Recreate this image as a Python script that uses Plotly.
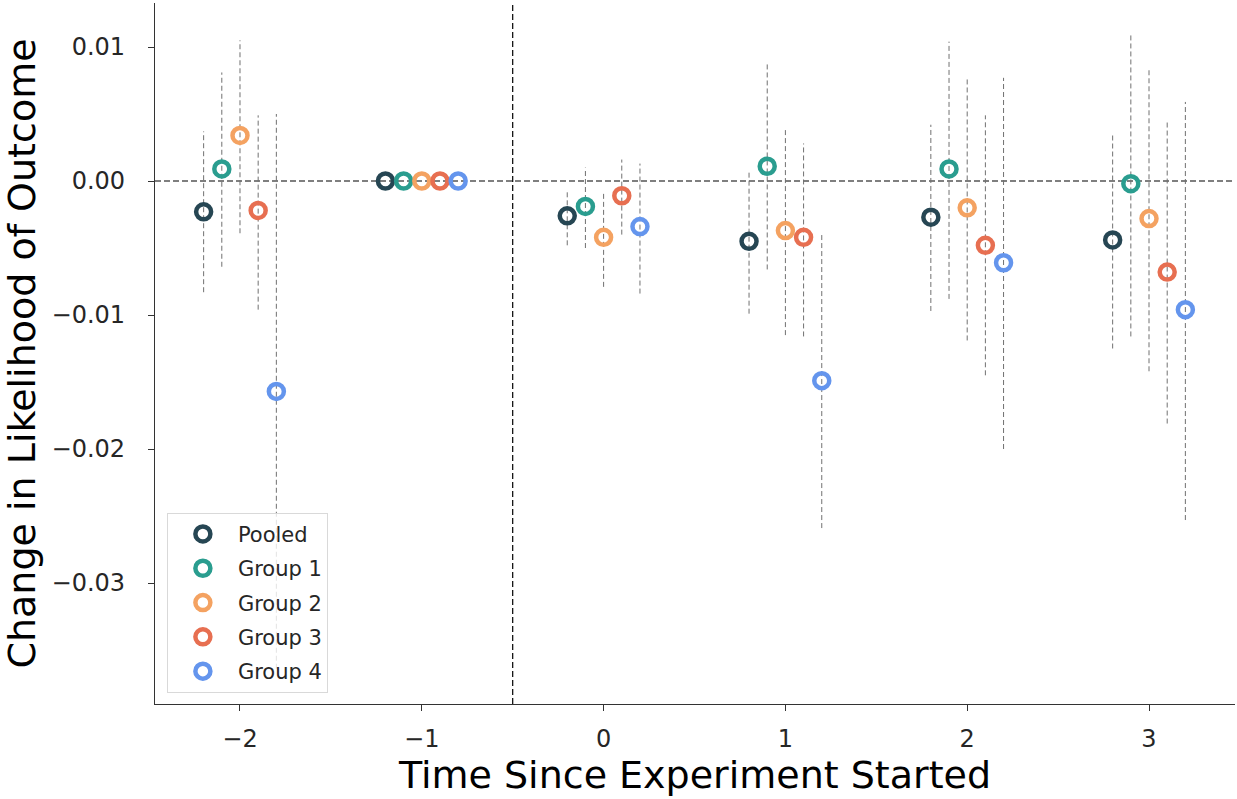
import plotly.graph_objects as go

periods = [-2, -1, 0, 1, 2, 3]
series_names = ["Pooled", "Group 1", "Group 2", "Group 3", "Group 4"]
offsets = [-0.2, -0.1, 0.0, 0.1, 0.2]
colors = ["#264653", "#2a9d8f", "#f4a261", "#e76f51", "#6495ed"]

pooled = [-0.0023, 0.0, -0.0026, -0.0045, -0.0027, -0.0044]
pooled_lo = [-0.0083, 0.0, -0.0048, -0.0099, -0.0097, -0.0125]
pooled_hi = [0.0037, 0.0, -0.0007, 0.0007, 0.0042, 0.0036]

group1 = [0.0009, 0.0, -0.0019, 0.0011, 0.0009, -0.0002]
group1_lo = [-0.0064, 0.0, -0.0050, -0.0066, -0.0088, -0.0116]
group1_hi = [0.0081, 0.0, 0.0010, 0.0088, 0.0104, 0.0109]

group2 = [0.0034, 0.0, -0.0042, -0.0037, -0.0020, -0.0028]
group2_lo = [-0.0039, 0.0, -0.0079, -0.0115, -0.0119, -0.0142]
group2_hi = [0.0105, 0.0, -0.0008, 0.0040, 0.0078, 0.0084]

group3 = [-0.0022, 0.0, -0.0011, -0.0042, -0.0048, -0.0068]
group3_lo = [-0.0096, 0.0, -0.0040, -0.0116, -0.0145, -0.0181]
group3_hi = [0.0049, 0.0, 0.0016, 0.0028, 0.0049, 0.0044]

group4 = [-0.0157, 0.0, -0.0034, -0.0149, -0.0061, -0.0096]
group4_lo = [-0.0364, 0.0, -0.0084, -0.0259, -0.0200, -0.0253]
group4_hi = [0.0050, 0.0, 0.0013, -0.0040, 0.0077, 0.0059]

estimates = [pooled, group1, group2, group3, group4]
lows = [pooled_lo, group1_lo, group2_lo, group3_lo, group4_lo]
highs = [pooled_hi, group1_hi, group2_hi, group3_hi, group4_hi]

FONT = "DejaVu Sans"

fig = go.Figure()

# reference lines
fig.add_hline(y=0, line=dict(color="black", width=1.2, dash="6px,3px"), layer="below")
fig.add_vline(x=-0.5, line=dict(color="black", width=1.2, dash="6px,3px"), layer="below")

# dashed confidence intervals
for name, off, lo, hi in zip(series_names, offsets, lows, highs):
    xs, ys = [], []
    for p, l, h in zip(periods, lo, hi):
        if l == h:
            continue
        xs += [p + off, p + off, None]
        ys += [l, h, None]
    fig.add_trace(go.Scatter(
        x=xs, y=ys, mode="lines",
        line=dict(color="#707070", width=1, dash="5px,3px"),
        showlegend=False, hoverinfo="skip", legendgroup=name,
    ))

# point estimates
for name, off, est, col in zip(series_names, offsets, estimates, colors):
    fig.add_trace(go.Scatter(
        x=[p + off for p in periods], y=est, mode="markers", name=name,
        legendgroup=name,
        marker=dict(symbol="circle-open", size=15, color=col,
                    line=dict(width=4.5, color=col)),
    ))

fig.update_layout(
    width=1237, height=799,
    margin=dict(l=155, r=2, t=3, b=95),
    plot_bgcolor="white", paper_bgcolor="white",
    font=dict(family=FONT, color="#262626"),
    showlegend=True,
    legend=dict(
        x=0.011, y=0.016, xanchor="left", yanchor="bottom",
        bgcolor="rgba(255,255,255,0.8)", bordercolor="#d9d9d9", borderwidth=1,
        font=dict(family=FONT, size=21, color="#262626"),
        itemwidth=60, tracegroupgap=4,
    ),
    xaxis=dict(
        range=[-2.4675, 3.473], tickvals=periods, tickformat="d",
        showline=True, linecolor="#333333", linewidth=1.2,
        ticks="outside", ticklen=6, tickcolor="#333333", tickwidth=1.2,
        showgrid=False, zeroline=False,
        tickfont=dict(family=FONT, size=24, color="#262626"),
        ticklabelstandoff=7,
        title=dict(text="Time Since Experiment Started",
                   font=dict(family=FONT, size=38, color="black"), standoff=6),
    ),
    yaxis=dict(
        range=[-0.03903, 0.013284], tickvals=[-0.03, -0.02, -0.01, 0.0, 0.01],
        tickformat=".2f",
        showline=True, linecolor="#333333", linewidth=1.2,
        ticks="outside", ticklen=6, tickcolor="#333333", tickwidth=1.2,
        showgrid=False, zeroline=False,
        tickfont=dict(family=FONT, size=24, color="#262626"),
        ticklabelstandoff=18,
        title=dict(text="Change in Likelihood of Outcome",
                   font=dict(family=FONT, size=38, color="black"), standoff=6),
    ),
)

fig.write_html("out.html")
